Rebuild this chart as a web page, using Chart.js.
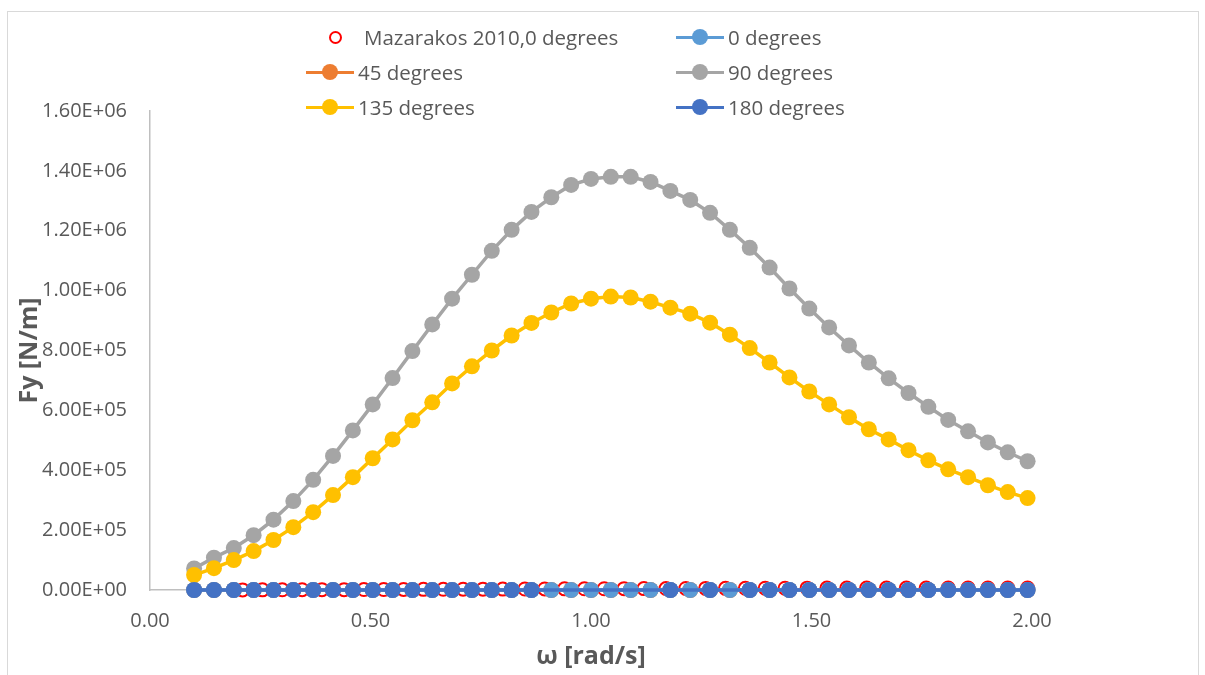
<!DOCTYPE html>
<html>
<head>
<meta charset="utf-8">
<script src="https://cdn.jsdelivr.net/npm/chart.js@4.4.0/dist/chart.umd.min.js"></script>
<style>
  body { margin: 0; background: #fff; font-family: 'Open Sans', sans-serif; }
  #wrap { position: relative; width: 1205px; height: 675px; overflow: hidden; }
  #frame { position: absolute; left: 7px; top: 11px; width: 1192px; height: 690px; border: 1.5px solid #d9d9d9; box-sizing: border-box; }
  #chart { position: absolute; left: 0; top: 0; }
  .item { position: absolute; display: flex; align-items: center; height: 26px; font-size: 20.5px; color: #595959; white-space: nowrap; }
  .sw { position: relative; width: 48px; height: 26px; margin-right: 4px; }
  .sw .ln { position: absolute; left: 0; right: 0; top: 11.5px; height: 3px; }
  .sw .dot { position: absolute; left: 16px; top: 5px; width: 16px; height: 16px; border-radius: 50%; box-sizing: border-box; }
</style>
</head>
<body>
<div id="wrap">
  <div id="frame"></div>
  <canvas id="chart" width="1205" height="675"></canvas>
  <div id="legend"></div>
</div>
<script>
// omega [rad/s] for the computed series
const omega = [0.100, 0.145, 0.190, 0.235, 0.280, 0.325, 0.370, 0.415, 0.460, 0.505,
  0.550, 0.595, 0.640, 0.685, 0.730, 0.775, 0.820, 0.865, 0.910, 0.955,
  1.000, 1.045, 1.090, 1.135, 1.180, 1.225, 1.270, 1.315, 1.360, 1.405,
  1.450, 1.495, 1.540, 1.585, 1.630, 1.675, 1.720, 1.765, 1.810, 1.855,
  1.900, 1.945, 1.990];

// omega for the Mazarakos 2010 reference points
const mazOmega = [0.21, 0.255, 0.30, 0.345, 0.39, 0.44, 0.485, 0.53, 0.575, 0.62,
  0.665, 0.71, 0.755, 0.80, 0.85, 0.895, 0.94, 0.985, 1.03, 1.075,
  1.12, 1.17, 1.215, 1.26, 1.305, 1.35, 1.395, 1.44, 1.49, 1.535,
  1.58, 1.625, 1.67, 1.715, 1.76, 1.81, 1.855, 1.90, 1.945, 1.99];

const fyMazarakos = [300, 500, 600, 900, 1100, 1200, 1500, 1700, 1800, 2100,
  2300, 2600, 2800, 3000, 3300, 3500, 3800, 4000, 4200, 4500,
  4700, 4900, 5100, 5300, 5500, 5700, 5900, 6000, 6200, 6300,
  6400, 6500, 6500, 6600, 6600, 6500, 6500, 6400, 6400, 6300];

const fy0 = [0, 0, 0, 0, 0, 0, 0, 0, 0, 0, 0, 0, 0, 0, 0, 0, 0, 0, 0, 0, 0, 0,
  0, 0, 0, 0, 0, 0, 0, 0, 0, 0, 0, 0, 0, 0, 0, 0, 0, 0, 0, 0, 0];

const fy45 = [0, 0, 0, 0, 0, 0, 0, 0, 0, 0, 0, 0, 0, 0, 0, 0, 0, 0, 0, 0, 0, 0,
  0, 0, 0, 0, 0, 0, 0, 0, 0, 0, 0, 0, 0, 0, 0, 0, 0, 0, 0, 0, 0];

const fy90 = [72000, 108000, 140000, 183000, 235000, 297000, 368000, 448000, 533000, 620000,
  708000, 798000, 887000, 973000, 1053000, 1133000, 1203000, 1263000, 1312000, 1353000,
  1373000, 1380000, 1380000, 1363000, 1333000, 1303000, 1260000, 1203000, 1143000, 1077000,
  1007000, 940000, 877000, 817000, 760000, 707000, 658000, 612000, 568000, 530000,
  493000, 460000, 430000];

const fy135 = [50000, 73000, 100000, 130000, 167000, 210000, 260000, 317000, 377000, 440000,
  503000, 567000, 627000, 690000, 747000, 800000, 850000, 892000, 927000, 957000,
  973000, 980000, 977000, 963000, 943000, 923000, 893000, 853000, 808000, 760000,
  710000, 663000, 620000, 577000, 537000, 503000, 467000, 433000, 403000, 377000,
  350000, 327000, 307000];

const fy180 = [0, 0, 0, 0, 0, 0, 0, 0, 0, 0, 0, 0, 0, 0, 0, 0, 0, 0,
  null, null, null, null, null, null, 0, null, 0, null,
  0, 0, 0, 0, 0, 0, 0, 0, 0, 0, 0, 0, 0, 0, 0];

const seriesNames = ['Mazarakos 2010,0 degrees', '0 degrees', '45 degrees', '90 degrees', '135 degrees', '180 degrees'];
const seriesColors = ['#FF0000', '#5B9BD5', '#ED7D31', '#A5A5A5', '#FFC000', '#4472C4'];
// drawing order: lower number is drawn on top
const drawOrder = [5, 3, 4, 2, 1, 0];

function pts(xs, ys) {
  return xs.map((x, i) => ({ x: x, y: ys[i] }));
}

function sci(v) {
  if (v === 0) return '0.00E+00';
  const e = Math.floor(Math.log10(Math.abs(v)));
  const m = v / Math.pow(10, e);
  return m.toFixed(2) + 'E' + (e < 0 ? '-' : '+') + String(Math.abs(e)).padStart(2, '0');
}

function lineSet(idx, ys) {
  const c = seriesColors[idx];
  return {
    label: seriesNames[idx],
    data: pts(omega, ys),
    showLine: true,
    borderColor: c,
    borderWidth: 3.5,
    backgroundColor: c,
    pointRadius: 8,
    pointBorderWidth: 0,
    pointBackgroundColor: c,
    spanGaps: true,
    clip: false,
    order: drawOrder[idx]
  };
}

const datasets = [
  {
    label: seriesNames[0],
    data: pts(mazOmega, fyMazarakos),
    showLine: false,
    pointRadius: 6.5,
    pointBorderWidth: 2,
    pointBorderColor: seriesColors[0],
    pointBackgroundColor: 'rgba(0,0,0,0)',
    clip: false,
    order: drawOrder[0]
  },
  lineSet(1, fy0),
  lineSet(2, fy45),
  lineSet(3, fy90),
  lineSet(4, fy135),
  lineSet(5, fy180)
];

const tickFont = { family: 'Open Sans', size: 20 };
const titleFont = { family: 'Open Sans', size: 25, weight: 'bold' };

new Chart(document.getElementById('chart'), {
  type: 'scatter',
  data: { datasets: datasets },
  options: {
    responsive: false,
    animation: false,
    layout: { padding: { left: 0, top: 111, right: 173, bottom: 0 } },
    plugins: { legend: { display: false }, tooltip: { enabled: false } },
    scales: {
      x: {
        type: 'linear',
        min: 0,
        max: 2,
        afterFit: s => { s.height = 85; },
        ticks: { stepSize: 0.5, padding: 19, color: '#595959', font: tickFont, callback: v => v.toFixed(2) },
        grid: { display: false, drawTicks: false },
        border: { display: true, color: '#bfbfbf', width: 1.5 },
        title: { display: true, text: 'ω [rad/s]', color: '#595959', font: titleFont, padding: { top: 0, bottom: 3 } }
      },
      y: {
        min: 0,
        max: 1600000,
        afterFit: s => { s.width = 150; },
        ticks: { stepSize: 200000, padding: 23, color: '#595959', font: tickFont, callback: v => sci(v) },
        grid: { display: false, drawTicks: false },
        border: { display: true, color: '#bfbfbf', width: 1.5 },
        title: { display: true, text: 'Fy [N/m]', color: '#595959', font: titleFont, padding: { top: 15, bottom: 0 } }
      }
    }
  }
});

// legend laid out in two columns like the original
const legendPos = [[306, 37], [676, 37], [306, 72], [676, 72], [306, 107], [676, 107]];
const legend = document.getElementById('legend');
seriesNames.forEach((name, i) => {
  const item = document.createElement('div');
  item.className = 'item';
  item.style.left = legendPos[i][0] + 'px';
  item.style.top = (legendPos[i][1] - 13) + 'px';
  const sw = document.createElement('div');
  sw.className = 'sw';
  const dot = document.createElement('div');
  dot.className = 'dot';
  if (i === 0) {
    sw.style.marginRight = '10px';
    dot.style.border = '2px solid ' + seriesColors[0];
    dot.style.left = '23px';
    dot.style.top = '6.5px';
    dot.style.width = '13px';
    dot.style.height = '13px';
  } else {
    const ln = document.createElement('div');
    ln.className = 'ln';
    ln.style.background = seriesColors[i];
    sw.appendChild(ln);
    dot.style.background = seriesColors[i];
  }
  sw.appendChild(dot);
  item.appendChild(sw);
  const txt = document.createElement('span');
  txt.textContent = name;
  item.appendChild(txt);
  legend.appendChild(item);
});
</script>
</body>
</html>
